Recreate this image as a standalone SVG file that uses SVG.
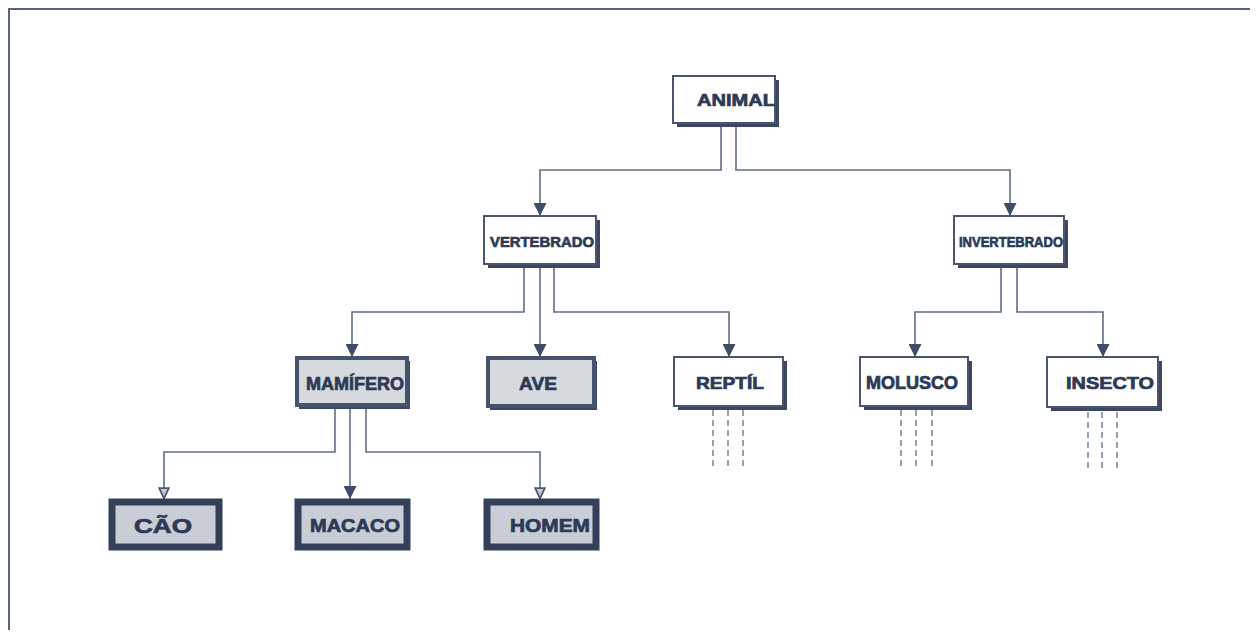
<svg xmlns="http://www.w3.org/2000/svg" width="1258" height="642" viewBox="0 0 1258 642">
<style>
.bg{fill:#ffffff}
.frame{stroke:#56647c;stroke-width:2;fill:none}
.shadow{fill:#3c4862}
.box{fill:#ffffff;stroke:#4a5670;stroke-width:2}
.grey{fill:#d6dadf;stroke:#46536c;stroke-width:4}
.dark{fill:#c9ced6;stroke:#34405a;stroke-width:7}
.lbl{font-family:"Liberation Sans",Arial,sans-serif;font-weight:bold;fill:#2c3a56;stroke:#2c3a56;stroke-width:0.7;text-anchor:middle}
.wire{stroke:#5e6d86;stroke-width:1.6;fill:none}
.dash{stroke:#6c7a92;stroke-width:1.4;fill:none;stroke-dasharray:6 4}
</style>
<defs>
<marker id="ah" viewBox="0 0 10 10" refX="10" refY="5" markerUnits="userSpaceOnUse" markerWidth="13" markerHeight="13" orient="auto">
<path d="M0,0 L10,5 L0,10 z" fill="#3e4c68"/>
</marker>
<marker id="ah2" viewBox="0 0 10 10" refX="10" refY="5" markerUnits="userSpaceOnUse" markerWidth="12" markerHeight="12" orient="auto">
<path d="M1,1 L9.5,5 L1,9 z" fill="#c3cad6" stroke="#4a5870" stroke-width="1.5"/>
</marker>
</defs>
<rect class="bg" x="0" y="0" width="1258" height="642"/>
<path class="frame" d="M9,630 L9,9 L1250,9"/>

<g id="connectors">
<path class="wire" d="M721,124 V170 H540 V216" marker-end="url(#ah)"/>
<path class="wire" d="M736,124 V170 H1010 V216" marker-end="url(#ah)"/>
<path class="wire" d="M524,265 V312 H352 V357" marker-end="url(#ah)"/>
<path class="wire" d="M540,265 V357" marker-end="url(#ah)"/>
<path class="wire" d="M554,265 V312 H729 V357" marker-end="url(#ah)"/>
<path class="wire" d="M1001,266 V312 H915 V357" marker-end="url(#ah)"/>
<path class="wire" d="M1017,266 V312 H1103 V357" marker-end="url(#ah)"/>
<path class="wire" d="M335,406 V452 H164 V499" marker-end="url(#ah2)"/>
<path class="wire" d="M350,406 V499" marker-end="url(#ah)"/>
<path class="wire" d="M366,406 V452 H540 V499" marker-end="url(#ah2)"/>
<path class="dash" d="M713,410 V470 M728,410 V470 M743,410 V470"/>
<path class="dash" d="M901,410 V470 M916,410 V470 M932,410 V470"/>
<path class="dash" d="M1088,412 V470 M1102,412 V470 M1117,412 V470"/>
</g>

<g id="animal">
<rect class="shadow" x="677" y="80" width="102" height="47"/>
<rect class="box" x="673" y="76" width="102" height="47"/>
<text class="lbl" x="736" y="106" font-size="17" textLength="78" lengthAdjust="spacingAndGlyphs">ANIMAL</text>
</g>
<g id="vertebrado">
<rect class="shadow" x="488" y="220" width="112" height="48"/>
<rect class="box" x="484" y="216" width="112" height="48"/>
<text class="lbl" x="542" y="247" font-size="15.5" textLength="104" lengthAdjust="spacingAndGlyphs">VERTEBRADO</text>
</g>
<g id="invertebrado">
<rect class="shadow" x="958" y="220" width="110" height="48"/>
<rect class="box" x="954" y="216" width="110" height="48"/>
<text class="lbl" x="1011" y="247" font-size="15" textLength="104" lengthAdjust="spacingAndGlyphs">INVERTEBRADO</text>
</g>
<g id="mamifero">
<rect class="shadow" x="299" y="361" width="111" height="48"/>
<rect class="grey" x="297" y="358" width="110" height="47"/>
<text class="lbl" x="355" y="390" font-size="18" textLength="98" lengthAdjust="spacingAndGlyphs">MAMÍFERO</text>
</g>
<g id="ave">
<rect class="shadow" x="490" y="361" width="107" height="49"/>
<rect class="grey" x="488" y="358" width="106" height="48"/>
<text class="lbl" x="538" y="390" font-size="18" textLength="38" lengthAdjust="spacingAndGlyphs">AVE</text>
</g>
<g id="reptil">
<rect class="shadow" x="678" y="361" width="109" height="49"/>
<rect class="box" x="674" y="357" width="109" height="49"/>
<text class="lbl" x="730" y="389" font-size="17" textLength="68" lengthAdjust="spacingAndGlyphs">REPTÍL</text>
</g>
<g id="molusco">
<rect class="shadow" x="864" y="361" width="108" height="49"/>
<rect class="box" x="860" y="357" width="108" height="49"/>
<text class="lbl" x="912" y="389" font-size="18" textLength="92" lengthAdjust="spacingAndGlyphs">MOLUSCO</text>
</g>
<g id="insecto">
<rect class="shadow" x="1051" y="361" width="111" height="50"/>
<rect class="box" x="1047" y="357" width="111" height="50"/>
<text class="lbl" x="1110" y="389" font-size="17" textLength="88" lengthAdjust="spacingAndGlyphs">INSECTO</text>
</g>
<g id="cao">
<rect class="dark" x="112" y="502" width="107" height="45"/>
<text class="lbl" x="163" y="533" font-size="21" textLength="58" lengthAdjust="spacingAndGlyphs">CÃO</text>
</g>
<g id="macaco">
<rect class="dark" x="298" y="502" width="109" height="45"/>
<text class="lbl" x="355" y="532" font-size="18" textLength="90" lengthAdjust="spacingAndGlyphs">MACACO</text>
</g>
<g id="homem">
<rect class="dark" x="487" y="502" width="109" height="45"/>
<text class="lbl" x="550" y="532" font-size="18" textLength="80" lengthAdjust="spacingAndGlyphs">HOMEM</text>
</g>
</svg>
